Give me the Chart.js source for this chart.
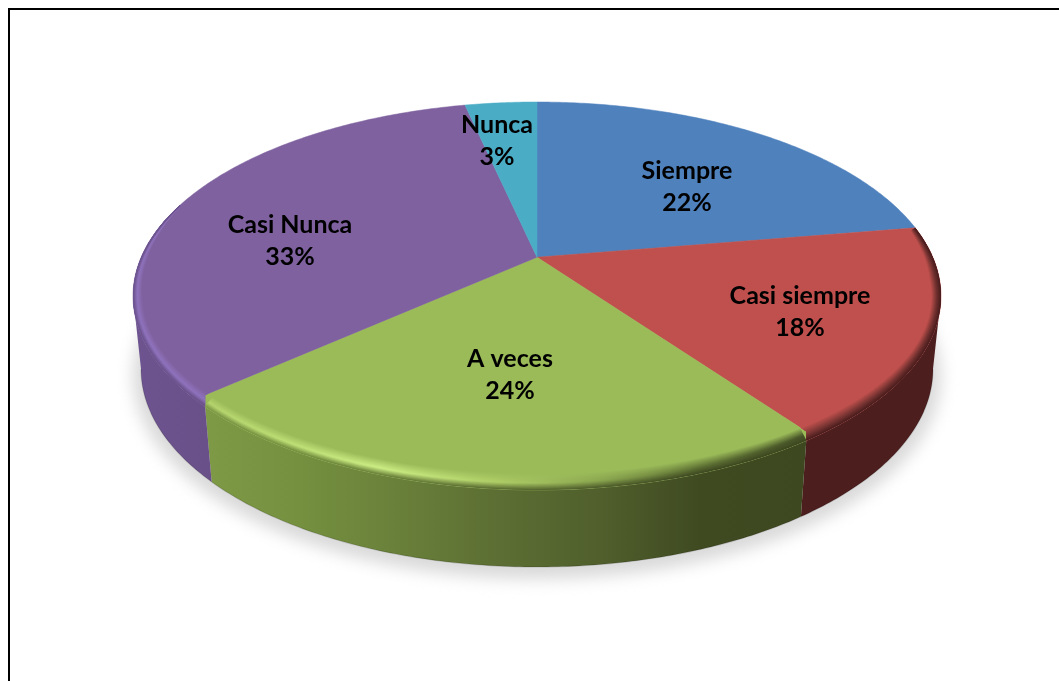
<!DOCTYPE html>
<html><head><meta charset="utf-8">
<script src="https://cdn.jsdelivr.net/npm/chart.js@4"></script>
<style>html,body{margin:0;padding:0;background:#fff;overflow:hidden}canvas{display:block}</style>
</head><body><canvas id="c" width="1059" height="681"></canvas>
<script>
const categories = ['Siempre','Casi siempre','A veces','Casi Nunca','Nunca'];
const values = [22.4,17.6,23.5,33.01,3.49];
const faceColors = ['#4f81bd','#c0504d','#9bbb59','#7f619f','#4bacc6'];

// page layout of the tilted disc (reference geometry, not data)
const TOP = {cy:296, rx:404, ry:194};
const BOTTOM = {cy:369, rx:396, ry:198};
const TILT = -0.2;
const INNER = 0.97;
const RIM_X = 9, RIM_Y = 16;
const labelAnchors = [[687,171],[800,296],[510,359],[290,225],[497,125]];
const wallShade = {
  1:{xs:[800,945],wall:['#4d1e1e','#4d1e1e'],mid:['#7d3735','#6e2f2d']},
  2:{xs:[195,300,380,500,600,700,810],
     wall:['#7f9b47','#75903f','#6b833b','#5c6e33','#505f2c','#3f4a21','#3e4820'],
     mid:['#b3d26c','#bfe077','#cdee85','#aecd66','#8aa64f','#5f7234','#465227']},
  3:{xs:[130,210],wall:['#6d5490','#6a5088'],mid:['#8f72bd','#8f72bd']}
};
const rgb = h => [1,3,5].map(i=>parseInt(h.substr(i,2),16));
const mix = (a,b,t) => { const A=rgb(a),B=rgb(b); return '#'+A.map((v,i)=>Math.round(v+(B[i]-v)*t).toString(16).padStart(2,'0')).join(''); };
const A0 = Math.asin(-TILT), A1 = Math.PI-A0;

function norm(u,v){ const d=1+TILT*v; return [u*Math.sqrt(1-TILT*TILT)/d,(v+TILT)/d]; }
function pt(cx,E,a,dx=0,dy=0){ const [X,Y]=norm(Math.cos(a),Math.sin(a)); return [cx+(E.rx-dx)*X, E.cy+(E.ry-dy)*Y]; }
function hub(cx){ const [X,Y]=norm(0,0); return [cx+TOP.rx*X,TOP.cy+TOP.ry*Y]; }
function isFront(a){ return a>A0 && a<A1; }
function innerPt(cx,a){ const h=hub(cx),p=pt(cx,TOP,a); return isFront(a)?[h[0]+(p[0]-h[0])*INNER,h[1]+(p[1]-h[1])*INNER]:p; }
// angle on the rim that sits straight below the inner end of a slice edge
function rimAngle(cx,a){ if(!isFront(a)) return a; const x=innerPt(cx,a)[0]; let lo=A0,hi=A1;
  for(let i=0;i<40;i++){const m=(lo+hi)/2; if(pt(cx,TOP,m)[0]>x) lo=m; else hi=m;} return (lo+hi)/2; }
function gradient(ctx,xs,cols){ const x0=xs[0],x1=xs[xs.length-1],g=ctx.createLinearGradient(x0,0,x1,0);
  xs.forEach((x,i)=>g.addColorStop((x-x0)/(x1-x0),cols[i])); return g; }
function facePath(ctx,cx,s,e){ const h=hub(cx), is=innerPt(cx,s), ie=innerPt(cx,e), os=rimAngle(cx,s), oe=rimAngle(cx,e);
  ctx.beginPath(); ctx.moveTo(h[0],h[1]); ctx.lineTo(is[0],is[1]);
  const n=Math.ceil((oe-os)*90); for(let i=0;i<=n;i++){const p=pt(cx,TOP,os+(oe-os)*i/n);ctx.lineTo(p[0],p[1]);}
  ctx.lineTo(ie[0],ie[1]); ctx.closePath(); }
function taper(a){ const l=Math.min(1,Math.max(0,(a+0.4)/0.5)), r=Math.min(1,Math.max(0,(Math.PI+0.3-a)/0.5)); return Math.min(l,r); }

const disc3d = {
  id:'disc3d',
  beforeDraw(chart){ const c=chart.ctx; c.save(); c.fillStyle='#fff'; c.fillRect(0,0,1059,681);
    c.strokeStyle='#000'; c.lineWidth=2; c.beginPath(); c.moveTo(9,681); c.lineTo(9,9); c.lineTo(1059,9); c.stroke(); c.restore(); },
  beforeDatasetDraw(chart){
    const c=chart.ctx, arcs=chart.getDatasetMeta(0).data, cx=arcs[0].x;
    c.save();
    // shadow
    c.save(); c.filter='blur(8px)'; c.fillStyle='#d9d9d9'; c.beginPath();
    c.ellipse(cx,376,404,203,0,0,Math.PI*2); c.fill(); c.restore();
    // walls
    arcs.forEach((arc,i)=>{ const sh=wallShade[i]; if(!sh) return;
      const s=Math.max(rimAngle(cx,arc.startAngle),A0), e=Math.min(rimAngle(cx,arc.endAngle),A1); if(e<=s) return;
      const n=Math.ceil((e-s)*90), top=[], bot=[];
      for(let k=0;k<=n;k++){const a=s+(e-s)*k/n; top.push(pt(cx,TOP,a)); bot.push(pt(cx,BOTTOM,a));}
      c.beginPath(); top.forEach((p,k)=>k?c.lineTo(p[0],p[1]):c.moveTo(p[0],p[1]));
      bot.reverse().forEach(p=>c.lineTo(p[0],p[1])); c.closePath();
      c.fillStyle=gradient(c,sh.xs,sh.wall); c.fill();
      c.strokeStyle='rgba(0,0,0,.15)'; c.lineWidth=1.2; c.beginPath();
      bot.forEach((p,k)=>k?c.lineTo(p[0],p[1]):c.moveTo(p[0],p[1])); c.stroke();
    });
    // top faces
    arcs.forEach((arc,i)=>{ facePath(c,cx,arc.startAngle,arc.endAngle); c.fillStyle=faceColors[i]; c.fill();
      c.strokeStyle=faceColors[i]; c.lineWidth=.5; c.stroke(); });
    // bevel
    arcs.forEach((arc,i)=>{ const sh=wallShade[i]; if(!sh) return;
      c.save(); facePath(c,cx,arc.startAngle,arc.endAngle); c.clip();
      const s=Math.max(rimAngle(cx,arc.startAngle),-0.4), e=Math.min(rimAngle(cx,arc.endAngle),Math.PI+0.3);
      const N=20, n=Math.ceil((e-s)*90);
      for(let j=N-1;j>=0;j--){ const t=j/(N-1);
        const cols=sh.xs.map((x,k)=> t<.4? mix(sh.wall[k],sh.mid[k],t/.4): mix(sh.mid[k],faceColors[i],(t-.4)/.6));
        c.strokeStyle=gradient(c,sh.xs,cols); c.lineWidth=2; c.beginPath();
        for(let k=0;k<=n;k++){const a=s+(e-s)*k/n, w=t*taper(a), p=pt(cx,TOP,a,RIM_X*w,RIM_Y*w); k?c.lineTo(p[0],p[1]):c.moveTo(p[0],p[1]);}
        c.stroke(); }
      c.restore(); });
    // labels
    c.fillStyle='#000'; c.textAlign='center'; c.textBaseline='middle'; c.font='700 25px Lato';
    const total=values.reduce((a,b)=>a+b,0);
    categories.forEach((name,i)=>{ const [x,y]=labelAnchors[i];
      c.fillText(name,x,y); c.fillText(Math.round(values[i]/total*100)+'%',x,y+32); });
    c.restore();
    return false;
  }
};

new Chart(document.getElementById('c'),{
  type:'pie',
  data:{labels:categories,datasets:[{data:values,backgroundColor:faceColors,borderWidth:0}]},
  options:{responsive:false,animation:false,layout:{padding:{left:15}},
    plugins:{legend:{display:false},tooltip:{enabled:false}}},
  plugins:[disc3d]
});
</script></body></html>
